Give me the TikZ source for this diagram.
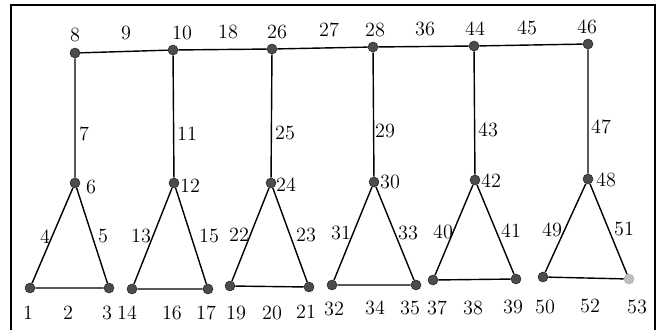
\documentclass[tikz,border=0pt]{standalone}
\usepackage{tikz}

\begin{document}
\begin{tikzpicture}[x=0.2mm,y=-0.2mm,line width=0.8pt,
  vert/.style={circle,fill=black!70,draw=black!80,line width=0.4pt,inner sep=0pt,minimum size=5.6pt},
  lbl/.style={inner sep=0pt,font=\fontsize{11.5}{13}\selectfont}]
  \clip (0,0) rectangle (660,329);
  % marco
  \draw[line width=1.1pt] (11,340) -- (11,5) -- (655,5) -- (655,340);
  % vertices
  \foreach \t/\x/\y in {8/75/53,10/173/50,26/272/49,28/373/47,44/474/46,46/588/44,
    6/75/183,12/174/183,24/271/183,30/374/182,42/475/180,48/588/179,
    1/30/288,3/109/288,14/132/289,17/208/289,19/230/286,21/309/287,
    32/332/285,35/416/285,37/433/280,39/516/279,50/543/277}
    \node[vert] (v\t) at (\x,\y) {};
  \node[vert,fill=black!25,draw=black!30] (v53) at (629,279) {};
  % aristas
  \draw (v8)--(v10)--(v26)--(v28)--(v44)--(v46);
  \foreach \a/\b/\c/\d in {8/6/1/3,10/12/14/17,26/24/19/21,28/30/32/35,44/42/37/39,46/48/50/53}
    \draw (v\a)--(v\b)--(v\c)--(v\d)--(v\b);
  % etiquetas
  \foreach \t/\x/\y in {8/75/35,9/126/33,10/182/33,18/228/32,26/277/32,27/329/30,
    28/375/30,36/425/29,44/475/29,45/527/28,46/587/27,
    7/84/134,11/187/134,25/285/133,29/385/131,43/488/130,47/601/127,
    6/91/187,12/190/186,24/286/185,30/390/182,42/491/181,48/606/180,
    4/45/237,5/103/236,13/141/236,15/209/236,22/239/235,23/306/235,
    31/341/233,33/408/233,40/443/232,41/511/231,49/552/230,51/624/229,
    1/28/313,2/68/313,3/107/313,14/127/313,16/172/313,17/206/313,
    19/236/313,20/272/313,21/306/312,32/334/309,34/375/308,35/410/308,
    37/437/308,38/473/308,39/513/307,50/545/307,52/590/306,53/637/307}
    \node[lbl] (l\t) at (\x,\y) {\t};
\end{tikzpicture}
\end{document}
